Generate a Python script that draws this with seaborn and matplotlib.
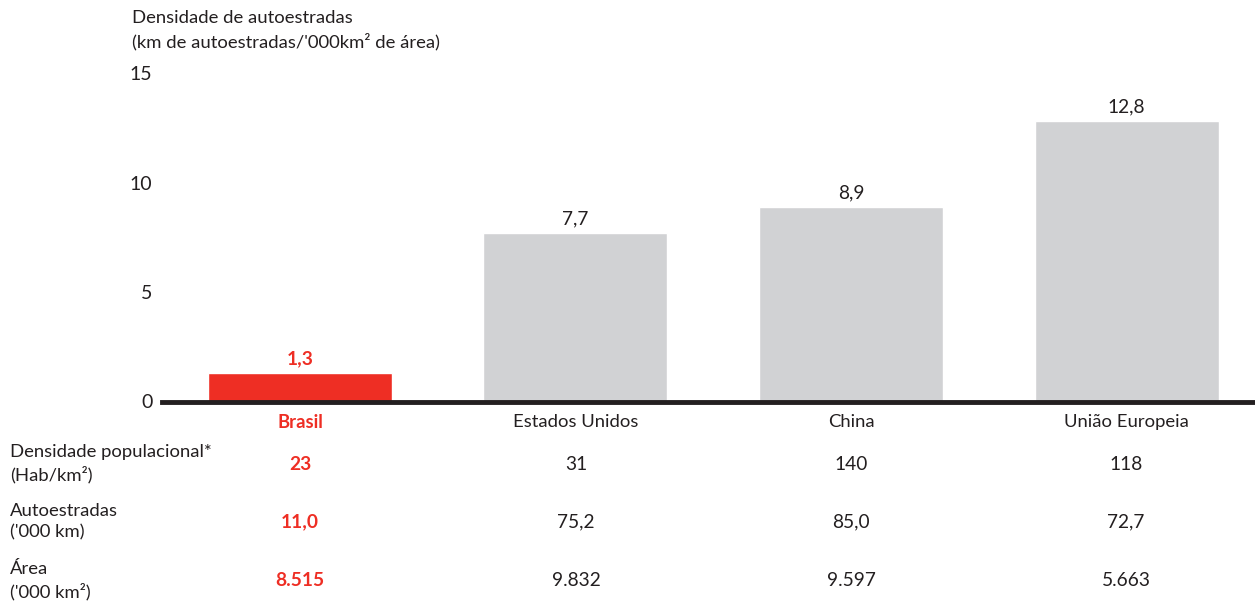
import matplotlib
matplotlib.use("Agg")
import matplotlib.pyplot as plt
import seaborn as sns
import pandas as pd

# ---- data ----
countries = ["Brasil", "Estados Unidos", "China", "União Europeia"]
road_density = [1.3, 7.7, 8.9, 12.8]
road_density_labels = ["1,3", "7,7", "8,9", "12,8"]
pop_density = ["23", "31", "140", "118"]
highways_km = ["11,0", "75,2", "85,0", "72,7"]
area_km2 = ["8.515", "9.832", "9.597", "5.663"]
row_labels = ["Densidade populacional*\n(Hab/km²)", "Autoestradas\n('000 km)", "Área\n('000 km²)"]
yticks = [0, 5, 10, 15]
title = "Densidade de autoestradas\n(km de autoestradas/'000km² de área)"

RED = "#ee2e24"
GREY = "#d1d2d4"
DARK = "#231f20"
FS = 13.3

sns.set_theme(style="white")
plt.rcParams["font.family"] = ["Lato", "DejaVu Sans"]

fig = plt.figure(figsize=(12.55, 6.03), dpi=100)
ax = fig.add_axes([162 / 1255, 1 - 401.5 / 603, 1 - 162 / 1255, (401.5 - 73) / 603])

df = pd.DataFrame({"country": countries, "value": road_density})
palette = {c: (RED if i == 0 else GREY) for i, c in enumerate(countries)}
sns.barplot(data=df, x="country", y="value", hue="country", palette=palette,
            width=0.668, legend=False, ax=ax, saturation=1)

ax.set_xlim(-0.5, 3.466)
ax.set_ylim(0, 15)
ax.set_yticks(yticks)
ax.set_yticklabels([str(t) for t in yticks], fontsize=14, color=DARK)
ax.tick_params(axis="y", length=0, pad=7)
ax.set_xticks([])
ax.set_xlabel("")
ax.set_ylabel("")
for s in ["top", "right", "left"]:
    ax.spines[s].set_visible(False)
ax.spines["bottom"].set_linewidth(3.5)
ax.spines["bottom"].set_color(DARK)

for i, (v, lab) in enumerate(zip(road_density, road_density_labels)):
    ax.annotate(lab, (i, v), xytext=(0, 4), textcoords="offset points",
                ha="center", va="bottom", fontsize=FS + 0.5,
                color=RED if i == 0 else DARK,
                fontweight="bold" if i == 0 else "normal")

def fx(px):
    return px / 1255
def fy(py):
    return 1 - py / 603

centers = [300, 576, 851, 1126]
fig.text(fx(132), fy(30), title, ha="left", va="center", fontsize=FS,
         color=DARK, linespacing=1.5)

# category labels
for i, c in enumerate(countries):
    fig.text(fx(centers[i]), fy(422), c, ha="center", va="center", fontsize=FS,
             color=RED if i == 0 else DARK, fontweight="bold" if i == 0 else "normal")

rows = [pop_density, highways_km, area_km2]
row_y = [464, 522, 581]
for r, (lab, vals, y) in enumerate(zip(row_labels, rows, row_y)):
    fig.text(fx(10), fy(y), lab, ha="left", va="center", fontsize=FS,
             color=DARK, linespacing=1.4)
    for i, v in enumerate(vals):
        fig.text(fx(centers[i]), fy(y), v, ha="center", va="center", fontsize=FS + 0.5,
                 color=RED if i == 0 else DARK,
                 fontweight="bold" if i == 0 else "normal")

fig.savefig("out.png", dpi=100, facecolor="white")
